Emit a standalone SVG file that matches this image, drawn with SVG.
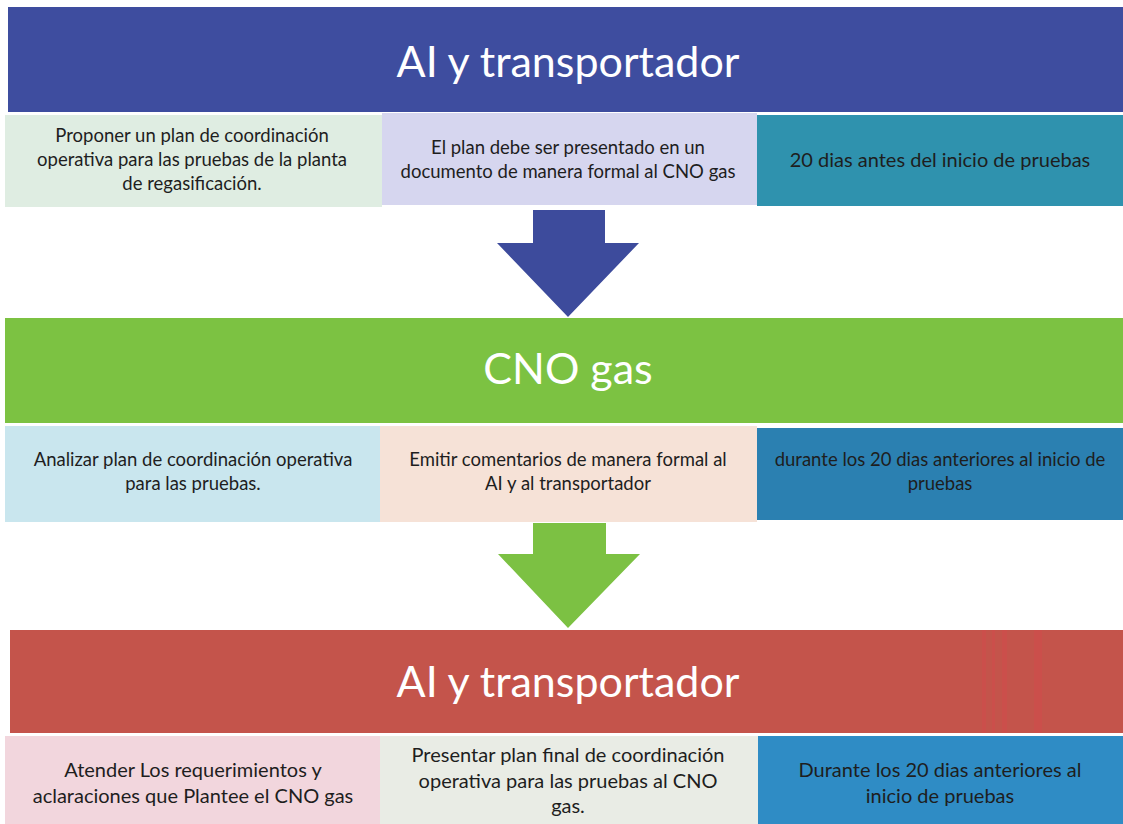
<svg xmlns="http://www.w3.org/2000/svg" width="1123" height="824" viewBox="0 0 1123 824">
<style>
.title{font-family:Lato,"Open Sans","Liberation Sans",sans-serif;font-size:43px;fill:#ffffff;text-anchor:middle}
.body{font-family:Lato,"Open Sans","Liberation Sans",sans-serif;font-size:18.5px;fill:#1e1e1e;text-anchor:middle}
.big{font-size:20px}
.stripe{fill:#d44a4c;opacity:0.45}
</style>
<rect width="1123" height="824" fill="#ffffff"/>
<g id="connectors">
<polygon points="533,210 605,210 605,243 639,243 568,317 497,243 533,243" fill="#3d4b9c"/>
<polygon points="533,523 606,523 606,554 640,554 568,628 498,554 533,554" fill="#7cc143"/>
</g>
<g id="header1">
<rect x="8" y="7" width="1115" height="105" fill="#3e4d9f"/>
<text class="title" x="568" y="77">AI y transportador</text>
</g>
<g id="r1c1">
<rect x="5" y="115" width="377" height="92" fill="#dfede2"/>
<text class="body" x="192" y="142">Proponer un plan de coordinación</text>
<text class="body" x="192" y="166">operativa para las pruebas de la planta</text>
<text class="body" x="192" y="190">de regasificación.</text>
</g>
<g id="r1c2">
<rect x="382" y="113" width="375" height="92" fill="#d6d6ef"/>
<text class="body" x="568" y="154">El plan debe ser presentado en un</text>
<text class="body" x="568" y="178">documento de manera formal al CNO gas</text>
</g>
<g id="r1c3">
<rect x="757" y="115" width="366" height="91" fill="#2f92ae"/>
<text class="body big" x="940" y="167">20 dias antes del inicio de pruebas</text>
</g>
<g id="header2">
<rect x="5" y="318" width="1118" height="105" fill="#7cc242"/>
<text class="title" x="568" y="384">CNO gas</text>
</g>
<g id="r2c1">
<rect x="5" y="426" width="375" height="96" fill="#c9e6ee"/>
<text class="body" x="193" y="466">Analizar plan de coordinación operativa</text>
<text class="body" x="193" y="490">para las pruebas.</text>
</g>
<g id="r2c2">
<rect x="380" y="426" width="377" height="96" fill="#f6e2d7"/>
<text class="body" x="568" y="466">Emitir comentarios de manera formal al</text>
<text class="body" x="568" y="490">AI y al transportador</text>
</g>
<g id="r2c3">
<rect x="757" y="428" width="366" height="92" fill="#2b80b1"/>
<text class="body" x="940" y="466">durante los 20 dias anteriores al inicio de</text>
<text class="body" x="940" y="490">pruebas</text>
</g>
<g id="header3">
<rect x="10" y="630" width="1113" height="103" fill="#c4544b"/>
<rect class="stripe" x="982" y="630" width="4" height="103"/>
<rect class="stripe" x="992" y="630" width="3" height="103"/>
<rect class="stripe" x="1002" y="630" width="5" height="103"/>
<rect class="stripe" x="1034" y="630" width="8" height="103"/>
<text class="title" x="568" y="697">AI y transportador</text>
</g>
<g id="r3c1">
<rect x="5" y="736" width="375" height="88" fill="#f2d6dd"/>
<text class="body big" x="193" y="777">Atender Los requerimientos y</text>
<text class="body big" x="193" y="803">aclaraciones que Plantee el CNO gas</text>
</g>
<g id="r3c2">
<rect x="380" y="736" width="378" height="88" fill="#e9ece5"/>
<text class="body big" x="568" y="762">Presentar plan final de coordinación</text>
<text class="body big" x="568" y="788">operativa para las pruebas al CNO</text>
<text class="body big" x="568" y="813">gas.</text>
</g>
<g id="r3c3">
<rect x="758" y="736" width="365" height="88" fill="#2f8cc5"/>
<text class="body big" x="940" y="777">Durante los 20 dias anteriores al</text>
<text class="body big" x="940" y="803">inicio de pruebas</text>
</g>
</svg>
